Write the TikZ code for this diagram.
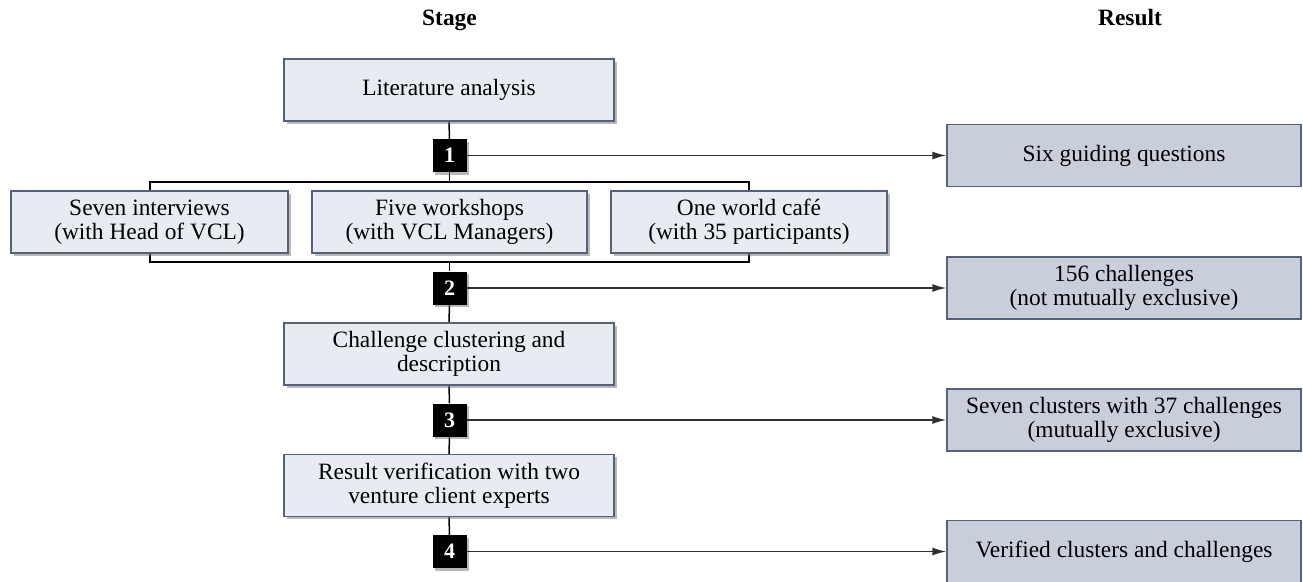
\documentclass[tikz,border=0pt]{standalone}
\usepackage{fontspec}
\setmainfont{Liberation Serif}
\usetikzlibrary{shadows,arrows.meta,backgrounds}
\definecolor{boxline}{HTML}{56627A}
\definecolor{stagefill}{HTML}{E8EBF1}
\definecolor{resfill}{HTML}{C8CFDB}
\definecolor{arrowgray}{HTML}{303030}
\newcommand\dgfont{\fontsize{23.4}{24}\selectfont}
\newcommand\dgbadge{\fontsize{22}{22}\selectfont\bfseries}
\begin{document}
\begin{tikzpicture}[x=1pt,y=-1pt,
  boxshadow/.style={drop shadow={shadow xshift=2.5pt,shadow yshift=-2.5pt,opacity=0.5,fill=black!55}},
  stagebox/.style={draw=boxline,line width=1.3pt,fill=stagefill,minimum height=62pt,
    align=center,inner sep=0pt,font=\dgfont,boxshadow},
  resbox/.style={draw=boxline,line width=1.3pt,fill=resfill,minimum height=62pt,
    minimum width=354pt,align=center,inner sep=0pt,font=\dgfont},
  badge/.style={fill=black,text=white,font=\dgbadge,minimum width=34pt,minimum height=33pt,
    inner sep=0pt,boxshadow},
  header/.style={font=\dgfont\bfseries},
  trunk/.style={line width=1.5pt,black},
  resarrow/.style={line width=1.5pt,arrowgray,-{Latex[length=14pt,width=8pt]}}
]
\useasboundingbox (0,0) rectangle (1303,581);

% headers
\node[header,anchor=base] (hstage) at (449.5,25) {Stage};
\node[header,anchor=base] (hresult) at (1130,25) {Result};

% stage column
\node[stagebox,minimum width=330pt] (lit) at (449,90) {Literature analysis};
\node[badge] (b1) at (449.5,155.5) {1};

\coordinate (brTL) at (150,182);
\coordinate (brBR) at (749,262);
\coordinate (brTop) at (449.5,182);
\coordinate (brBot) at (449.5,262);

\node[stagebox,minimum width=277pt] (s1) at (149.5,222) {Seven interviews\\(with Head of VCL)};
\node[stagebox,minimum width=275pt] (s2) at (449.5,222) {Five workshops\\(with VCL Managers)};
\node[stagebox,minimum width=276pt] (s3) at (749,222) {One world café\\(with 35 participants)};

\node[badge] (b2) at (449.5,288) {2};
\node[stagebox,minimum width=330pt] (chal) at (449,354) {Challenge clustering and\\description};
\node[badge] (b3) at (449.5,420) {3};
\node[stagebox,minimum width=330pt] (ver) at (449,485.5) {Result verification with two\\venture client experts};
\node[badge] (b4) at (449.5,551.5) {4};

% result column
\node[resbox] (r1) at (1124,155.5) {Six guiding questions};
\node[resbox] (r2) at (1124,288) {156 challenges\\(not mutually exclusive)};
\node[resbox] (r3) at (1124,420) {Seven clusters with 37 challenges\\(mutually exclusive)};
\node[resbox] (r4) at (1124,551.5) {Verified clusters and challenges};

\begin{scope}[on background layer]
  \draw[trunk] (brTL) rectangle (brBR);
  \draw[trunk] (lit.south) -- (b1.north);
  \draw[trunk] (b1.south) -- (brTop);
  \draw[trunk] (brBot) -- (b2.north);
  \draw[trunk] (b2.south) -- (chal.north);
  \draw[trunk] (chal.south) -- (b3.north);
  \draw[trunk] (b3.south) -- (ver.north);
  \draw[trunk] (ver.south) -- (b4.north);
\end{scope}

\draw[resarrow] (b1.east) -- (r1.west);
\draw[resarrow] (b2.east) -- (r2.west);
\draw[resarrow] (b3.east) -- (r3.west);
\draw[resarrow] (b4.east) -- (r4.west);
\end{tikzpicture}
\end{document}
